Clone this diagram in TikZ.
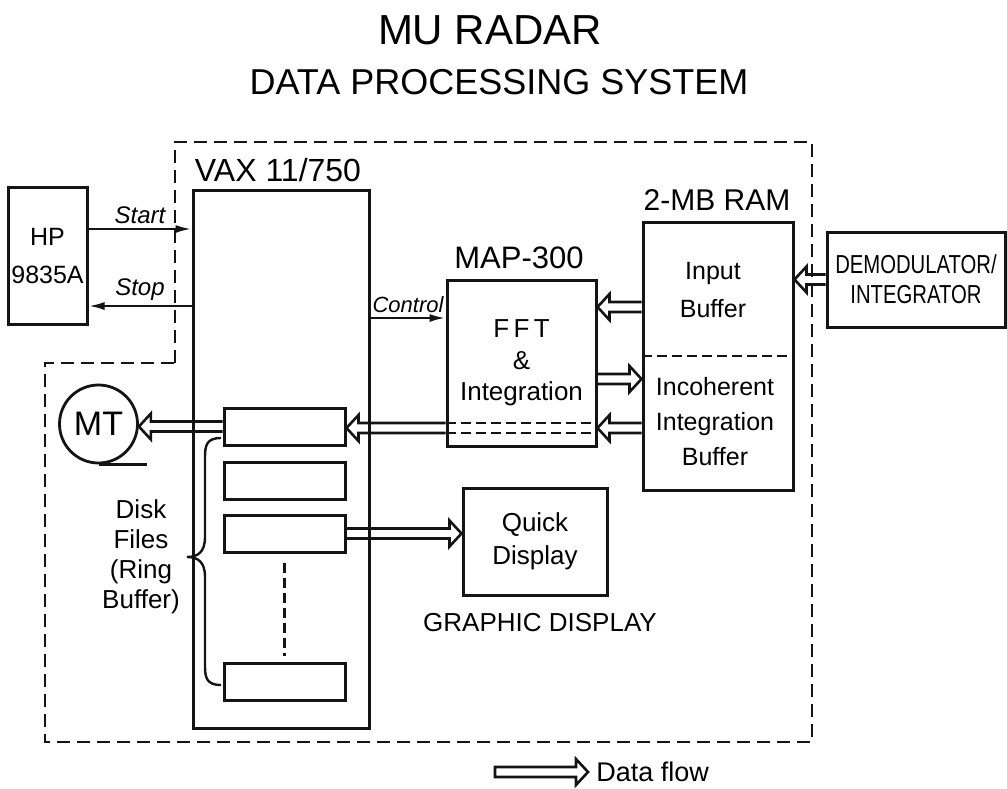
\documentclass[tikz,border=0pt]{standalone}
\usepackage{graphicx}
\usepackage{fontspec}
\setmainfont{Liberation Sans}
\usetikzlibrary{arrows.meta,calc,positioning}
\definecolor{muInk}{RGB}{20,20,20}
\tikzset{
  blk/.style={draw=muInk, line width=1.5pt, inner sep=0pt, align=center,
    font=\fontsize{12.5}{17}\selectfont},
  diskbox/.style={blk, minimum width=60.5pt, minimum height=18.5pt},
  txt/.style={font=\fontsize{12.5}{17.5}\selectfont, align=center, inner sep=0pt},
  hdr/.style={font=\fontsize{15.5}{18}\selectfont, inner sep=0pt},
  sig/.style={draw=muInk, line width=1.2pt, -{Latex[length=8pt,width=4pt]}},
  siglbl/.style={font=\fontsize{12}{14}\selectfont\itshape, inner sep=2pt},
  flowline/.style={draw=muInk, line width=1.3pt, line join=miter},
  bound/.style={draw=muInk, line width=1.3pt, dash pattern=on 6.5pt off 3.5pt},
  innerdash/.style={draw=muInk, line width=1.2pt, dash pattern=on 5pt off 2.5pt}
}
% hollow data-flow arrow, horizontal, tip at the second point
\newcommand{\dataflow}[3][]{%
  \draw[flowline] let \p1=(#2), \p2=(#3), \n1={(\x2>\x1)*2-1} in
    (\x1,{\y1+2.5pt}) -- ({\x2-\n1*6pt},{\y1+2.5pt}) -- ({\x2-\n1*6pt},{\y1+6.5pt})
    -- (\x2,\y1) -- ({\x2-\n1*6pt},{\y1-6.5pt}) -- ({\x2-\n1*6pt},{\y1-2.5pt})
    -- (\x1,{\y1-2.5pt}) #1;%
}

\begin{document}
\begin{tikzpicture}[x=0.5pt,y=-0.5pt]
  \useasboundingbox (0,0) rectangle (1007,788);
  \node[font=\fontsize{21}{24}\selectfont] (title) at (490,30) {MU RADAR};
  \node[font=\fontsize{18}{22}\selectfont] (subtitle) at (499,82) {DATA PROCESSING SYSTEM};

  % system boundary
  \draw[bound] (175,363) -- (175,142) -- (812,142) -- (812,742) -- (45,742) -- (45,363) -- cycle;

  % blocks
  \node[blk, minimum width=39.5pt, minimum height=68.5pt, font=\fontsize{12.5}{19}\selectfont] (hp) at (47.5,256) {HP\\9835A};
  \node[blk, minimum width=88pt, minimum height=269pt] (vax) at (281,459) {};
  \node[hdr, font=\fontsize{16}{18}\selectfont] (vaxlbl) at (278,170) {VAX 11/750};
  \node[blk, minimum width=74.5pt, minimum height=83pt, font=\fontsize{13}{15.75}\selectfont] (map) at (521.5,363) {F\,F\,T\\\&\\Integration};
  \node[hdr] (maplbl) at (519,258) {MAP-300};
  \node[blk, minimum width=75pt, minimum height=134pt] (ram) at (718,356) {};
  \node[hdr, font=\fontsize{15}{18}\selectfont] (ramlbl) at (717,200) {2-MB RAM};
  \node[txt, font=\fontsize{12.5}{19}\selectfont] (inbuf) at (713,290) {Input\\Buffer};
  \node[txt] (incbuf) at (715,422) {Incoherent\\Integration\\Buffer};
  \draw[innerdash] (ram.west) -- (ram.east);
  \node[blk, minimum width=89pt, minimum height=47.5pt, font=\fontsize{13}{15}\selectfont] (demod) at (916,279.5)
    {\scalebox{0.78}[1]{DEMODULATOR/}\\\scalebox{0.78}[1]{INTEGRATOR}};
  \node[circle, draw=muInk, line width=1.4pt, minimum size=39pt, inner sep=0pt, font=\fontsize{17}{20}\selectfont] (mt) at (98.5,424) {MT};
  \draw[line width=1.3pt, draw=muInk] (mt.south) -- ++(48,0);
  \foreach \i/\y in {1/426.5,2/480.5,3/533.5,4/682}
    \node[diskbox] (disk\i) at (284.5,\y) {};
  \draw[innerdash] ($(disk3.south)+(0,9)$) -- ($(disk4.north)+(0,-6)$);
  \node[blk, minimum width=72pt, minimum height=53.5pt, font=\fontsize{13}{16.5}\selectfont] (quick) at (535,541.5) {Quick\\Display};
  \node[txt, font=\fontsize{13}{15}\selectfont] (grlbl) at (540,623) {GRAPHIC DISPLAY};

  % disk files brace
  \node[txt, font=\fontsize{13}{15}\selectfont] (disklbl) at (141,557) {Disk\\Files\\(Ring\\Buffer)};
  \draw[line width=1.2pt, draw=muInk] (221,438) .. controls (206,438) and (205,446) .. (205,458) -- (205,537)
    .. controls (205,552) and (198,557) .. (187,557) .. controls (198,557) and (205,562) .. (205,577)
    -- (205,665) .. controls (205,677) and (206,685) .. (221,685);

  % control signals
  \coordinate (st) at (0,229);
  \coordinate (sp) at (0,306);
  \coordinate (ct) at (0,318);
  \draw[sig] (hp.east |- st) -- node[above, siglbl] (startlbl) {Start} (vax.west |- st);
  \draw[sig] (vax.west |- sp) -- node[above, siglbl] (stoplbl) {Stop} (hp.east |- sp);
  \draw[sig] (vax.east |- ct) -- node[above, siglbl, font=\fontsize{11}{13}\selectfont\itshape] (ctrllbl) {Control} (map.west |- ct);

  % data flow
  \coordinate (f2) at (0,307);
  \coordinate (f3) at (0,379);
  \coordinate (f4) at (0,428);
  \coordinate (f4u) at (0,423);
  \coordinate (f4d) at (0,433);
  \dataflow{demod.west}{ram.east}
  \dataflow{ram.west |- f2}{map.east}
  \dataflow{map.east |- f3}{ram.west}
  \dataflow{ram.west |- f4}{map.east}
  \draw[innerdash] (map.west |- f4u) -- (map.east |- f4u);
  \draw[innerdash] (map.west |- f4d) -- (map.east |- f4d);
  \dataflow{map.west |- f4}{disk1.east}
  \dataflow{disk1.west}{mt.east}
  \dataflow{disk3.east}{quick.west}

  % legend
  \coordinate (legtail) at (495,772);
  \node[anchor=west, inner sep=4pt, font=\fontsize{13.5}{16}\selectfont] (datalbl) at (588,772) {Data flow};
  \dataflow[-- cycle]{legtail}{datalbl.west}
\end{tikzpicture}
\end{document}
